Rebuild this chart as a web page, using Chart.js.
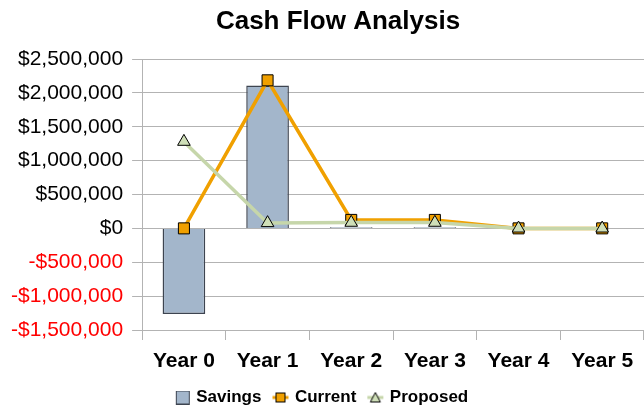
<!DOCTYPE html>
<html>
<head>
<meta charset="utf-8">
<script src="https://cdn.jsdelivr.net/npm/chart.js@4/dist/chart.umd.min.js"></script>
<style>
  html, body { margin: 0; padding: 0; background: #fff; }
  #wrap { width: 644px; height: 407px; }
</style>
</head>
<body>
<div id="wrap"><canvas id="cashChart" width="644" height="407"></canvas></div>
<script>
// data
const years = ["Year 0", "Year 1", "Year 2", "Year 3", "Year 4", "Year 5"];
const savings = [-1265000, 2110000, 15000, 15000, 0, 0];
const current = [0, 2185000, 125000, 125000, 0, 0];
const proposed = [1280000, 80000, 85000, 85000, 0, 0];

const yMin = -1500000;
const yMax = 2500000;
const yStep = 500000;
const chartTitle = "Cash Flow Analysis";

// colours
const barFill = "#a3b6cb";
const barEdge = "#3d4450";
const orange = "#f0a000";
const green = "#c6d6aa";
const greenMarker = "#cfdfb8";
const fontFam = "'Liberation Sans', Arial, sans-serif";

// small canvases for the legend icons (line + marker)
function makeIcon(kind) {
  const c = document.createElement('canvas');
  c.width = 24; c.height = 14;
  const g = c.getContext('2d');
  if (kind === 'bar') {
    g.fillStyle = barFill;
    g.strokeStyle = barEdge;
    g.lineWidth = 1;
    g.fillRect(9.5, 0.5, 13, 13);
    g.strokeRect(9.5, 0.5, 13, 13);
    return c;
  }
  g.strokeStyle = kind === 'current' ? orange : green;
  g.lineWidth = 3;
  g.beginPath(); g.moveTo(7, 7); g.lineTo(23, 7); g.stroke();
  g.strokeStyle = "#000";
  g.lineWidth = 1;
  if (kind === 'current') {
    g.fillStyle = orange;
    g.fillRect(10.5, 2.5, 9, 9);
    g.strokeRect(10.5, 2.5, 9, 9);
  } else {
    g.fillStyle = greenMarker;
    g.beginPath();
    g.moveTo(15, 2); g.lineTo(20, 11.5); g.lineTo(10, 11.5); g.closePath();
    g.fill(); g.stroke();
  }
  return c;
}
const icons = [makeIcon('bar'), makeIcon('current'), makeIcon('proposed')];

function money(v) {
  const s = '$' + Math.abs(v).toLocaleString('en-US');
  return v < 0 ? '-' + s : s;
}

// title drawn a bit right of the canvas centre, like the original
const titlePlugin = {
  id: 'sheetTitle',
  afterLayout(chart) {
    // legend sits slightly left of centre in the original
    chart.legend.left -= 7;
    chart.legend.right -= 7;
  },
  afterDraw(chart) {
    const c = chart.ctx;
    c.save();
    c.font = "bold 26px " + fontFam;
    c.fillStyle = '#000';
    c.textAlign = 'center';
    c.textBaseline = 'alphabetic';
    c.fillText(chartTitle, 338, 29);
    c.restore();
  }
};

const ctx = document.getElementById('cashChart').getContext('2d');
const chart = new Chart(ctx, {
  type: 'bar',
  data: {
    labels: years,
    datasets: [
      {
        type: 'bar',
        label: 'Savings',
        data: savings,
        backgroundColor: barFill,
        borderColor: barEdge,
        borderWidth: 1.5,
        barPercentage: 0.51,
        categoryPercentage: 1,
        order: 3
      },
      {
        type: 'line',
        label: 'Current',
        data: current,
        borderColor: orange,
        borderWidth: 3.5,
        pointStyle: 'rect',
        pointRadius: 7.8,
        pointBackgroundColor: orange,
        pointBorderColor: '#000',
        pointBorderWidth: 1,
        tension: 0,
        order: 2
      },
      {
        type: 'line',
        label: 'Proposed',
        data: proposed,
        borderColor: green,
        borderWidth: 3.5,
        pointStyle: 'triangle',
        pointRadius: 7.3,
        pointBackgroundColor: greenMarker,
        pointBorderColor: '#000',
        pointBorderWidth: 1,
        tension: 0,
        order: 1
      }
    ]
  },
  options: {
    responsive: false,
    animation: false,
    layout: { autoPadding: false, padding: { left: 2, right: -6, top: 59, bottom: -9 } },
    scales: {
      x: {
        offset: true,
        grid: {
          offset: true,
          drawOnChartArea: false,
          color: '#b3b3b3',
          tickLength: 10
        },
        border: { color: '#b3b3b3' },
        ticks: {
          color: '#000',
          padding: 0,
          font: { family: fontFam, size: 21, weight: 'bold', lineHeight: 2 }
        }
      },
      y: {
        min: yMin,
        max: yMax,
        ticks: {
          stepSize: yStep,
          padding: 9,
          color: (c) => c.tick.value < 0 ? '#ff0000' : '#000',
          font: { family: fontFam, size: 21 },
          callback: (v) => money(v)
        },
        grid: { color: '#b3b3b3', tickLength: 10 },
        border: { color: '#b3b3b3' }
      }
    },
    plugins: {
      title: { display: false },
      legend: {
        position: 'bottom',
        labels: {
          usePointStyle: true,
          pointStyleWidth: 18,
          padding: 7,
          color: '#000',
          font: { family: fontFam, size: 17, weight: 'bold' },
          generateLabels: (ch) => ch.data.datasets.map((ds, i) => ({
            text: ds.label,
            pointStyle: icons[i],
            fillStyle: 'transparent',
            strokeStyle: 'transparent',
            lineWidth: 0,
            fontColor: '#000',
            hidden: false,
            datasetIndex: i
          }))
        }
      },
      tooltip: { enabled: false }
    }
  },
  plugins: [titlePlugin]
});
</script>
</body>
</html>
